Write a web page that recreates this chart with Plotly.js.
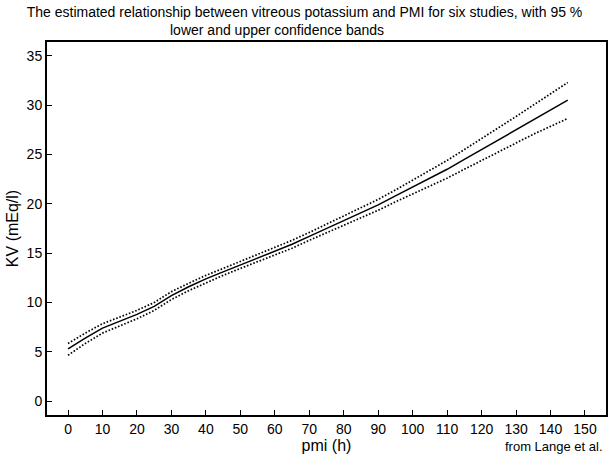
<!DOCTYPE html>
<html>
<head>
<meta charset="utf-8">
<script src="https://cdn.plot.ly/plotly-3.0.1.min.js"></script>
<style>html,body{margin:0;padding:0;background:#fff}#chart{width:609px;height:455px}</style>
</head>
<body>
<div id="chart"></div>
<script>
// PMI (hours)
var pmi = [0, 5, 10, 15, 20, 25, 30, 35, 40, 45, 50, 55, 60, 65, 70, 75, 80, 85, 90, 95, 100, 105, 110, 115, 120, 125, 130, 135, 140, 145];
// Estimated vitreous potassium (mEq/l)
var kvEstimate = [5.3, 6.4, 7.4, 8.1, 8.8, 9.6, 10.7, 11.6, 12.4, 13.1, 13.8, 14.5, 15.2, 15.9, 16.7, 17.5, 18.3, 19.1, 19.9, 20.8, 21.7, 22.6, 23.5, 24.5, 25.5, 26.5, 27.5, 28.5, 29.5, 30.5];
// 95 % upper confidence band
var kvUpper = [5.85, 6.9, 7.85, 8.55, 9.2, 10.0, 11.1, 11.95, 12.75, 13.45, 14.15, 14.85, 15.55, 16.3, 17.1, 17.95, 18.75, 19.6, 20.45, 21.4, 22.4, 23.4, 24.4, 25.5, 26.6, 27.75, 28.85, 30.0, 31.15, 32.3];
// 95 % lower confidence band
var kvLower = [4.65, 5.85, 6.9, 7.65, 8.35, 9.2, 10.3, 11.2, 12.0, 12.75, 13.45, 14.15, 14.85, 15.5, 16.3, 17.05, 17.8, 18.6, 19.35, 20.2, 21.0, 21.8, 22.6, 23.5, 24.4, 25.3, 26.2, 27.05, 27.85, 28.65];

var xTicks = [0, 10, 20, 30, 40, 50, 60, 70, 80, 90, 100, 110, 120, 130, 140, 150];
var yTicks = [0, 5, 10, 15, 20, 25, 30, 35];

var font = 'Liberation Sans, Arial, sans-serif';

var traces = [
  {x: pmi, y: kvUpper, mode: 'lines', line: {color: '#000', width: 1.7, dash: '1.6px,1.8px'}, hoverinfo: 'skip'},
  {x: pmi, y: kvLower, mode: 'lines', line: {color: '#000', width: 1.7, dash: '1.6px,1.8px'}, hoverinfo: 'skip'},
  {x: pmi, y: kvEstimate, mode: 'lines', line: {color: '#000', width: 1.5}}
];

var axisCommon = {
  showgrid: false, zeroline: false, showline: true, mirror: true,
  linecolor: '#000', linewidth: 2,
  ticks: 'inside', ticklen: 5, tickwidth: 1, tickcolor: '#000',
  tickfont: {family: font, size: 14, color: '#000'}
};

var layout = {
  width: 609, height: 455,
  margin: {l: 47, r: 3, t: 42, b: 40},
  paper_bgcolor: '#fff', plot_bgcolor: '#fff',
  showlegend: false,
  title: {
    text: 'The estimated relationship between vitreous potassium and PMI for six studies, with 95 %',
    font: {family: font, size: 14, color: '#000'},
    x: 0.5, xanchor: 'center', xref: 'container', y: 0.973, yanchor: 'middle'
  },
  annotations: [
    {text: 'lower and upper confidence bands', xref: 'paper', yref: 'paper',
     x: 0.4106, y: 1, xanchor: 'center', yanchor: 'bottom', yshift: 2, showarrow: false,
     font: {family: font, size: 14, color: '#000'}},
    {text: 'from Lange et al.', xref: 'paper', yref: 'paper',
     x: 1, y: 0, xanchor: 'right', yanchor: 'top', yshift: -22, xshift: -1, showarrow: false,
     font: {family: font, size: 13, color: '#000'}}
  ],
  xaxis: Object.assign({}, axisCommon, {
    range: [-6.1, 156.1], tickvals: xTicks, ticktext: xTicks.map(String),
    title: {text: 'pmi (h)', font: {family: font, size: 16, color: '#000'}, standoff: 2}
  }),
  yaxis: Object.assign({}, axisCommon, {
    range: [-1.4, 36.4], tickvals: yTicks, ticktext: yTicks.map(String),
    title: {text: 'KV (mEq/l)', font: {family: font, size: 16, color: '#000'}, standoff: 4}
  })
};

Plotly.newPlot('chart', traces, layout, {staticPlot: true, displayModeBar: false});
</script>
</body>
</html>
